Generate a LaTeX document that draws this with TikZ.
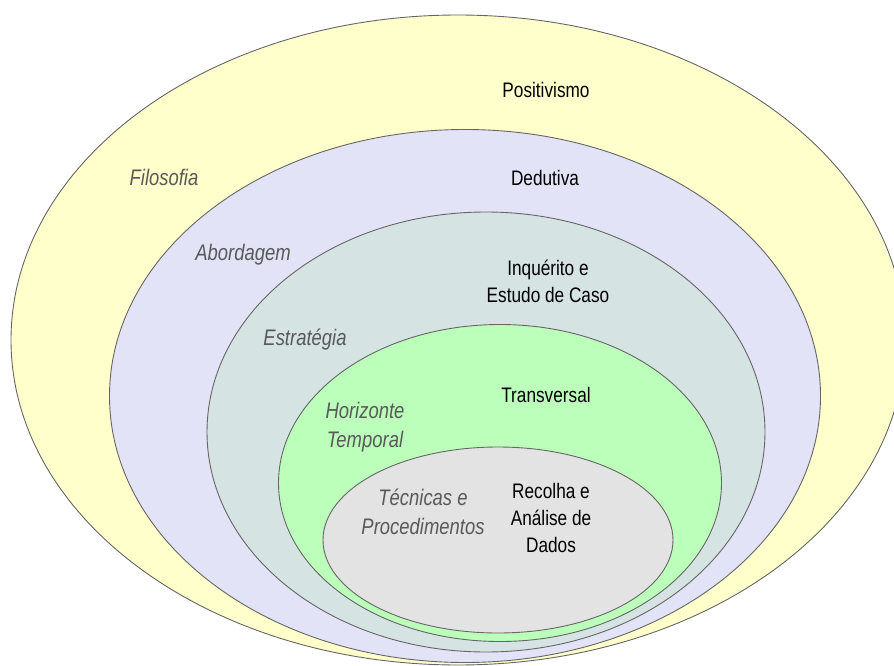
\documentclass[tikz,border=0pt]{standalone}
\usepackage{fontspec}
\setmainfont[FakeStretch=0.82]{Liberation Sans}
\definecolor{ringyellow}{HTML}{FFFFCC}
\definecolor{ringlavender}{HTML}{E3E3F8}
\definecolor{ringslate}{HTML}{D6E3E3}
\definecolor{ringgreen}{HTML}{BBFFBB}
\definecolor{ringgray}{HTML}{E3E3E3}
\definecolor{ringline}{HTML}{666666}
\definecolor{taggray}{HTML}{595959}
\usetikzlibrary{shapes.geometric}

\begin{document}
\begin{tikzpicture}[x=1pt, y=-1pt,
    ring/.style={ellipse, draw=ringline, line width=0.9pt, inner sep=0pt, outer sep=0pt},
    tag/.style={font=\fontsize{22.5}{29}\selectfont\itshape, text=taggray, align=center},
    val/.style={font=\fontsize{21}{27}\selectfont, text=black, align=center}
  ]
    \useasboundingbox (0,0) rectangle (894,666);

    % nested layers, outside in
    \node[ring, fill=ringyellow,   minimum width=894pt, minimum height=650pt] (filo) at (458, 340) {};
    \node[ring, fill=ringlavender, minimum width=711pt, minimum height=533pt] (abor) at (465, 396) {};
    \node[ring, fill=ringslate,    minimum width=558pt, minimum height=440pt] (estr) at (486, 432) {};
    \node[ring, fill=ringgreen,    minimum width=443pt, minimum height=317pt] (hori) at (500, 483) {};
    \node[ring, fill=ringgray,     minimum width=350pt, minimum height=186pt] (tecn) at (498, 540) {};

    % layer names
    \node[tag] (filot) at (164, 177) {Filosofia};
    \node[tag] (abort) at (243, 255) {Abordagem};
    \node[tag] (estrt) at (305, 340) {Estratégia};
    \node[tag] (horit) at (365, 427) {Horizonte\\Temporal};
    \node[tag] (tecnt) at (423, 512) {Técnicas e\\Procedimentos};

    % choices
    \node[val] (filov) at (546, 90)  {Positivismo};
    \node[val] (aborv) at (545, 178) {Dedutiva};
    \node[val] (estrv) at (548, 281) {Inquérito e\\Estudo de Caso};
    \node[val] (horiv) at (546, 395) {Transversal};
    \node[val] (tecnv) at (551, 518) {Recolha e\\Análise de\\Dados};
  \end{tikzpicture}
\end{document}
